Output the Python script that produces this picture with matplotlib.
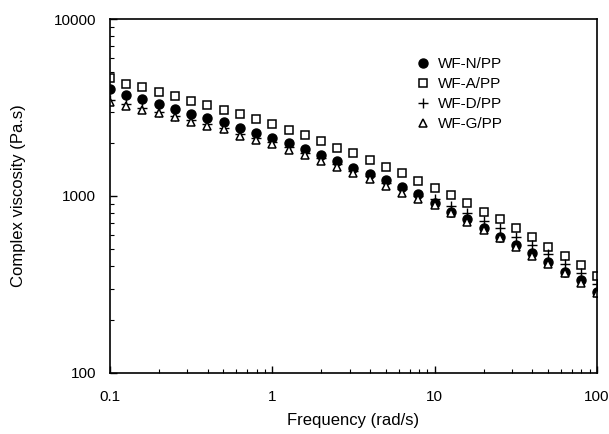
import matplotlib
matplotlib.use("Agg")
import matplotlib.pyplot as plt
from matplotlib.ticker import LogLocator, NullFormatter, FixedLocator, FixedFormatter

plt.rcParams['font.family'] = ['Liberation Sans', 'DejaVu Sans']

frequency = [0.1, 0.126, 0.158, 0.2, 0.251, 0.316, 0.398, 0.501, 0.631, 0.794,
             1.0, 1.26, 1.58, 2.0, 2.51, 3.16, 3.98, 5.01, 6.31, 7.94,
             10.0, 12.6, 15.8, 20.0, 25.1, 31.6, 39.8, 50.1, 63.1, 79.4, 100.0]

wf_n = [4009, 3720, 3519, 3311, 3102, 2905, 2748, 2607, 2431, 2278,
        2118, 1986, 1836, 1706, 1578, 1445, 1330, 1231, 1120, 1023,
        913, 815, 738, 657, 589, 529, 475, 425, 373, 335, 288]
wf_a = [4624, 4295, 4114, 3882, 3687, 3453, 3266, 3062, 2895, 2711,
        2535, 2360, 2213, 2045, 1875, 1742, 1597, 1464, 1343, 1219,
        1109, 1013, 909, 815, 738, 657, 589, 517, 460, 407, 353]
wf_d = [3500, 3330, 3150, 2990, 2840, 2690, 2540, 2430, 2250, 2120,
        2010, 1880, 1760, 1630, 1510, 1390, 1290, 1190, 1090, 1000,
        958, 879, 798, 725, 657, 585, 529, 469, 413, 366, 317]
wf_g = [3412, 3236, 3062, 2932, 2784, 2630, 2485, 2381, 2193, 2070,
        1959, 1818, 1706, 1578, 1464, 1343, 1247, 1143, 1044, 958,
        889, 798, 716, 643, 577, 513, 460, 413, 366, 321, 282]

series_labels = ["WF-N/PP", "WF-A/PP", "WF-D/PP", "WF-G/PP"]
x_ticks = [0.1, 1, 10, 100]
x_tick_labels = ["0.1", "1", "10", "100"]
y_ticks = [100, 1000, 10000]
y_tick_labels = ["100", "1000", "10000"]

fig = plt.figure(figsize=(6.09, 4.34), dpi=100)
ax = fig.add_axes([0.1806, 0.1406, 0.7997, 0.8156])

ms = 6.5
ax.plot(frequency, wf_n, linestyle='none', marker='o', markersize=ms,
        markerfacecolor='black', markeredgecolor='black', label=series_labels[0])
ax.plot(frequency, wf_a, linestyle='none', marker='s', markersize=ms - 0.5,
        markerfacecolor='white', markeredgecolor='black', markeredgewidth=1.1,
        label=series_labels[1])
ax.plot(frequency, wf_d, linestyle='none', marker='+', markersize=ms + 0.5,
        color='black', markeredgewidth=1.0, label=series_labels[2])
ax.plot(frequency, wf_g, linestyle='none', marker='^', markersize=ms - 0.5,
        markerfacecolor='white', markeredgecolor='black', markeredgewidth=1.1,
        label=series_labels[3])

ax.set_xscale('log')
ax.set_yscale('log')
ax.set_xlim(0.1, 100)
ax.set_ylim(100, 10000)

ax.xaxis.set_major_locator(FixedLocator(x_ticks))
ax.xaxis.set_major_formatter(FixedFormatter(x_tick_labels))
ax.yaxis.set_major_locator(FixedLocator(y_ticks))
ax.yaxis.set_major_formatter(FixedFormatter(y_tick_labels))
ax.xaxis.set_minor_locator(LogLocator(base=10, subs=range(2, 10)))
ax.yaxis.set_minor_locator(LogLocator(base=10, subs=range(2, 10)))
ax.xaxis.set_minor_formatter(NullFormatter())
ax.yaxis.set_minor_formatter(NullFormatter())

ax.tick_params(which='both', direction='in', top=False, right=False,
               labelsize=11, colors='black')
ax.tick_params(which='major', length=5, width=1, pad=12)
ax.tick_params(which='minor', length=3, width=0.8)
ax.tick_params(axis='y', which='major', pad=10)

for sp in ax.spines.values():
    sp.set_linewidth(1.2)
    sp.set_color('black')

ax.set_xlabel("Frequency (rad/s)", fontsize=12, labelpad=7)
ax.set_ylabel("Complex viscosity (Pa.s)", fontsize=12, labelpad=20)

leg = ax.legend(loc='upper right', bbox_to_anchor=(0.82, 0.91), frameon=False,
                fontsize=11, handletextpad=0.4, labelspacing=0.4,
                borderaxespad=0, handlelength=1.2)

fig.savefig("out.png", dpi=100)
